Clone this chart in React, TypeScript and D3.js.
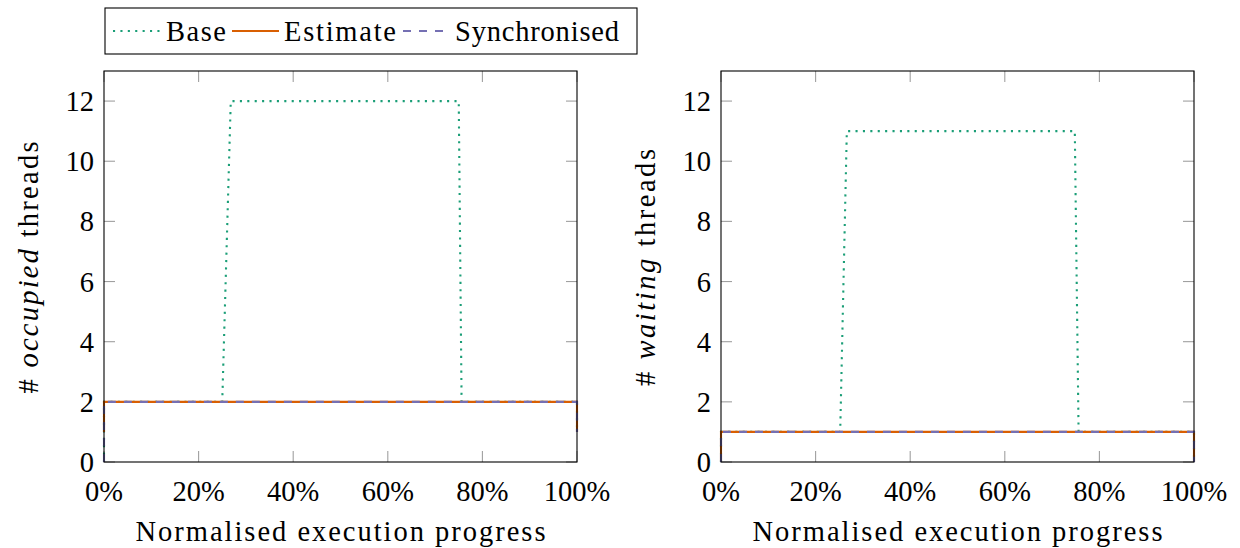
import React from "react";
import * as d3 from "d3";

const xTicks = [0, 20, 40, 60, 80, 100];
const yTicks = [0, 2, 4, 6, 8, 10, 12];

// Left panel: occupied threads
const occBaseX = [0, 0, 25, 26.8, 75, 75.6, 100, 100];
const occBaseY = [0, 2, 2, 12, 12, 2, 2, 1];
const occEstX = [0, 0, 100, 100];
const occEstY = [1, 2, 2, 1];
const occSyncX = [0, 0, 100, 100];
const occSyncY = [0, 2, 2, 1];

// Right panel: waiting threads
const waitBaseX = [0, 0, 25.2, 26.6, 74.8, 75.6, 100, 100];
const waitBaseY = [0, 1, 1, 11, 11, 1, 1, 0];
const waitEstX = [0, 0, 100, 100];
const waitEstY = [0, 1, 1, 0];
const waitSyncX = [0, 0, 100, 100];
const waitSyncY = [0, 1, 1, 0];

const seriesNames = ["Base", "Estimate", "Synchronised"];
const colors = ["#1b9e77", "#d95f02", "#7570b3"];
const dashes = ["2.1 5.3", "none", "8 8"];

const FONT = "Liberation Serif, DejaVu Serif, Times New Roman, serif";
const FS = 28.5;
const W = 1240;
const H = 548;

type Panel = {
  left: number;
  label: string;
  labelLen: number;
  series: { x: number[]; y: number[] }[];
};

const panels: Panel[] = [
  {
    left: 104,
    label: "occupied",
    labelLen: 252,
    series: [
      { x: occBaseX, y: occBaseY },
      { x: occEstX, y: occEstY },
      { x: occSyncX, y: occSyncY },
    ],
  },
  {
    left: 721,
    label: "waiting",
    labelLen: 237,
    series: [
      { x: waitBaseX, y: waitBaseY },
      { x: waitEstX, y: waitEstY },
      { x: waitSyncX, y: waitSyncY },
    ],
  },
];

const plotW = 473;
const top = 71;
const bottom = 462;
const tickLen = 11;
const textStyle = { fontFamily: FONT, fontSize: FS };

function PanelView({ p }: { p: Panel }) {
  const x = d3.scaleLinear().domain([0, 100]).range([p.left, p.left + plotW]);
  const y = d3.scaleLinear().domain([0, 13]).range([bottom, top]);
  const line = d3
    .line<[number, number]>()
    .x((d) => x(d[0]))
    .y((d) => y(d[1]));
  const cx = p.left + plotW / 2;
  return (
    <g>
      {xTicks.map((t) => (
        <g key={"xt" + t}>
          <line x1={x(t)} x2={x(t)} y1={bottom} y2={bottom - tickLen} stroke="#a0a0a0" strokeWidth={1.1} />
          <line x1={x(t)} x2={x(t)} y1={top} y2={top + tickLen} stroke="#a0a0a0" strokeWidth={1.1} />
          <text x={x(t)} y={501} textAnchor="middle" style={textStyle}>
            {t}%
          </text>
        </g>
      ))}
      {yTicks.map((t) => (
        <g key={"yt" + t}>
          <line x1={p.left} x2={p.left + tickLen} y1={y(t)} y2={y(t)} stroke="#a0a0a0" strokeWidth={1.1} />
          <line x1={p.left + plotW} x2={p.left + plotW - tickLen} y1={y(t)} y2={y(t)} stroke="#a0a0a0" strokeWidth={1.1} />
          <text x={p.left - 10} y={y(t)} dy="0.35em" textAnchor="end" style={textStyle}>
            {t}
          </text>
        </g>
      ))}
      {p.series.map((s, i) => (
        <path
          key={"s" + i}
          d={line(s.x.map((v, k) => [v, s.y[k]] as [number, number])) || ""}
          fill="none"
          stroke={colors[i]}
          strokeWidth={2.1}
          strokeDasharray={dashes[i]}
        />
      ))}
      <rect x={p.left} y={top} width={plotW} height={bottom - top} fill="none" stroke="#000" strokeWidth={1.1} />
      <text x={cx} y={541} textAnchor="middle" textLength={410} style={textStyle}>
        Normalised execution progress
      </text>
      <text
        transform={`translate(${p.left - 66},${(top + bottom) / 2 + 1}) rotate(-90)`}
        textAnchor="middle"
        textLength={p.labelLen}
        style={textStyle}
      >
        # <tspan style={{ fontStyle: "italic" }}>{p.label}</tspan> threads
      </text>
    </g>
  );
}

function Legend() {
  const items = [
    { lx: 113, tx: 166, len: 60 },
    { lx: 232, tx: 284, len: 112 },
    { lx: 403, tx: 455, len: 164 },
  ];
  return (
    <g>
      <rect x={105} y={8} width={532} height={46} fill="#fff" stroke="#000" strokeWidth={1.1} />
      {seriesNames.map((n, i) => (
        <g key={n}>
          <line
            x1={items[i].lx}
            x2={items[i].lx + 47}
            y1={31}
            y2={31}
            stroke={colors[i]}
            strokeWidth={2.1}
            strokeDasharray={dashes[i]}
          />
          <text x={items[i].tx} y={31} dy="0.35em" textLength={items[i].len} style={textStyle}>
            {n}
          </text>
        </g>
      ))}
    </g>
  );
}

export default function App() {
  return (
    <svg width={W} height={H} style={{ position: "absolute", left: 0, top: 0, background: "#fff" }}>
      <rect width={W} height={H} fill="#fff" />
      {panels.map((p, i) => (
        <PanelView key={i} p={p} />
      ))}
      <Legend />
    </svg>
  );
}
